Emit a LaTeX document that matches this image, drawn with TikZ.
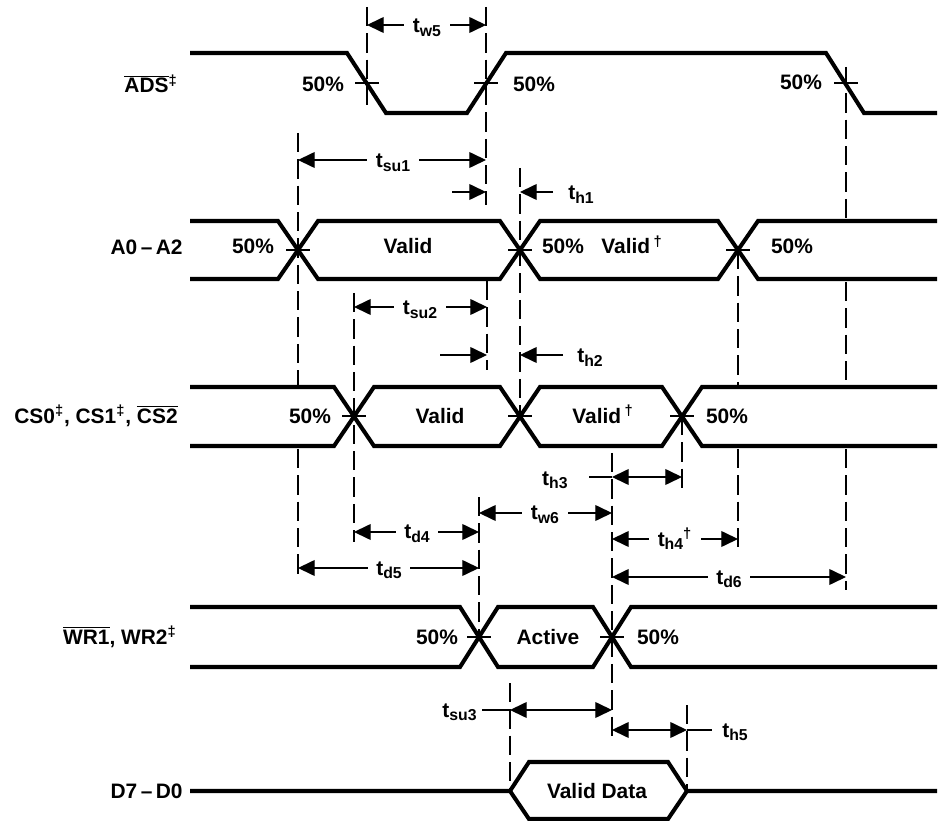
\documentclass[tikz,border=0pt]{standalone}
\usepackage{fontspec}
\setmainfont{Liberation Sans}
\usetikzlibrary{arrows.meta}
\newcommand\tsym[1]{t\raisebox{-2pt}{\fontsize{9pt}{10pt}\selectfont #1}}
\begin{document}
\begin{tikzpicture}[x=0.02cm,y=-0.02cm,
  wave/.style={line width=2.3pt, line join=miter},
  thinl/.style={line width=0.7pt},
  vdash/.style={line width=0.7pt, dash pattern=on 11pt off 4pt},
  dim/.style={line width=0.7pt, {Triangle[length=9.5pt,width=9pt]}-{Triangle[length=9.5pt,width=9pt]}},
  arr/.style={line width=0.7pt, -{Triangle[length=9.5pt,width=9pt]}},
  txt/.style={font=\fontsize{11.9pt}{14pt}\selectfont\bfseries, inner sep=0pt},
  dlab/.style={txt, fill=white, inner xsep=5pt, inner ysep=1pt, anchor=base},
]
\useasboundingbox (0,0) rectangle (938,821);

% ---- waveforms ----
\draw[wave] (190,53) -- (347,53) -- (386,113) -- (467,113) -- (506,53) -- (826,53) -- (864,113) -- (937,113);

\draw[wave] (190,221) -- (278,221) -- (318,279) -- (500,279) -- (540,221) -- (718,221) -- (758,279) -- (937,279);
\draw[wave] (190,279) -- (278,279) -- (318,221) -- (500,221) -- (540,279) -- (718,279) -- (758,221) -- (937,221);

\draw[wave] (190,387) -- (334,387) -- (374,446) -- (500,446) -- (540,387) -- (662,387) -- (702,446) -- (937,446);
\draw[wave] (190,446) -- (334,446) -- (374,387) -- (500,387) -- (540,446) -- (662,446) -- (702,387) -- (937,387);

\draw[wave] (190,607) -- (460,607) -- (498,667) -- (593,667) -- (631,607) -- (937,607);
\draw[wave] (190,667) -- (460,667) -- (498,607) -- (593,607) -- (631,667) -- (937,667);

\draw[wave] (190,791) -- (510,791) -- (529,762) -- (668,762) -- (687,791) -- (937,791);
\draw[wave] (510,791) -- (529,819) -- (668,819) -- (687,791);

% ---- dashed reference lines ----
\draw[vdash] (367,7) -- (367,110);
\draw[vdash] (486,7) -- (486,205);
\draw[vdash] (487,281) -- (487,370);
\draw[vdash] (298,133) -- (298,385);
\draw[vdash] (298,449) -- (298,580);
\draw[vdash] (354,293) -- (354,542);
\draw[vdash] (520,168) -- (520,416);
\draw[vdash] (738,250) -- (738,385);
\draw[vdash] (738,449) -- (738,553);
\draw[vdash] (846,67) -- (846,218);
\draw[vdash] (846,282) -- (846,385);
\draw[vdash] (846,449) -- (846,590);
\draw[vdash] (682,416) -- (682,492);
\draw[vdash] (612,453) -- (612,740);
\draw[vdash] (479,497) -- (479,637);
\draw[vdash] (510,683) -- (510,790);
\draw[vdash] (687,705) -- (687,790);

% ---- 50% ticks ----
\foreach \x in {367,486,846} \draw[thinl] (\x-12,83) -- (\x+12,83);
\foreach \x in {298,520,738} \draw[thinl] (\x-12,250) -- (\x+12,250);
\foreach \x in {354,520,682} \draw[thinl] (\x-12,416) -- (\x+12,416);
\foreach \x in {479,612} \draw[thinl] (\x-12,637) -- (\x+12,637);

% ---- dimension arrows ----
\draw[dim] (367,25) -- (486,25);
\draw[dim] (298,160) -- (486,160);
\draw[arr] (452,192) -- (486,192);
\draw[arr] (553,192) -- (520,192);
\draw[dim] (354,307) -- (487,307);
\draw[arr] (440,355) -- (487,355);
\draw[arr] (563,355) -- (520,355);
\draw[thinl] (589,477) -- (612,477);
\draw[dim] (612,477) -- (682,477);
\draw[dim] (479,513) -- (612,513);
\draw[dim] (354,532) -- (479,532);
\draw[dim] (298,568) -- (479,568);
\draw[dim] (612,539) -- (738,539);
\draw[dim] (612,577) -- (846,577);
\draw[thinl] (482,710) -- (510,710);
\draw[dim] (510,710) -- (612,710);
\draw[dim] (612,730) -- (687,730);
\draw[thinl] (687,730) -- (712,730);

% ---- timing labels ----
\node[dlab] (tw5) at (427,33) {\tsym{w5}};
\node[dlab] (tsu1) at (393,168) {\tsym{su1}};
\node[txt, anchor=base west] (th1) at (568,200) {\tsym{h1}};
\node[dlab] (tsu2) at (420,315) {\tsym{su2}};
\node[txt, anchor=base west] (th2) at (577,363) {\tsym{h2}};
\node[txt, anchor=base east] (th3) at (568,485) {\tsym{h3}};
\node[dlab] (tw6) at (545,520) {\tsym{w6}};
\node[dlab] (td4) at (417,539) {\tsym{d4}};
\node[dlab] (td5) at (389,575) {\tsym{d5}};
\node[dlab] (th4) at (675,546) {\tsym{h4}\textsuperscript{†}};
\node[dlab] (td6) at (729,584) {\tsym{d6}};
\node[txt, anchor=base east] (tsu3) at (477,717) {\tsym{su3}};
\node[txt, anchor=base west] (th5) at (722,737) {\tsym{h5}};

% ---- signal names ----
\node[txt, anchor=base east] (lads) at (178,93) {$\overline{\mbox{ADS}}$\textsuperscript{‡}};
\node[txt, anchor=base east] (la) at (183,255) {A0\,–\,A2};
\node[txt, anchor=base east] (lcs) at (178,423) {CS0\textsuperscript{‡}, CS1\textsuperscript{‡}, $\overline{\mbox{CS2}}$};
\node[txt, anchor=base east] (lwr) at (177,644) {$\overline{\mbox{WR1}}$, WR2\textsuperscript{‡}};
\node[txt, anchor=base east] (ld) at (183,798) {D7\,–\,D0};

% ---- in-waveform labels ----
\node[txt, anchor=base] (p1) at (323,92) {50\%};
\node[txt, anchor=base] (p2) at (534,92) {50\%};
\node[txt, anchor=base] (p3) at (801,90) {50\%};
\node[txt, anchor=base] (p4) at (253,254) {50\%};
\node[txt, anchor=base] (v1) at (408,254) {Valid};
\node[txt, anchor=base] (p5) at (563,254) {50\%};
\node[txt, anchor=base] (v2) at (632,254) {Valid\,\textsuperscript{†}};
\node[txt, anchor=base] (p6) at (792,254) {50\%};
\node[txt, anchor=base] (p7) at (310,423) {50\%};
\node[txt, anchor=base] (v3) at (440,423) {Valid};
\node[txt, anchor=base] (v4) at (603,423) {Valid\,\textsuperscript{†}};
\node[txt, anchor=base] (p8) at (727,423) {50\%};
\node[txt, anchor=base] (p9) at (437,644) {50\%};
\node[txt, anchor=base] (act) at (548,644) {Active};
\node[txt, anchor=base] (p10) at (658,644) {50\%};
\node[txt, anchor=base] (vd) at (597,798) {Valid Data};
\end{tikzpicture}
\end{document}
